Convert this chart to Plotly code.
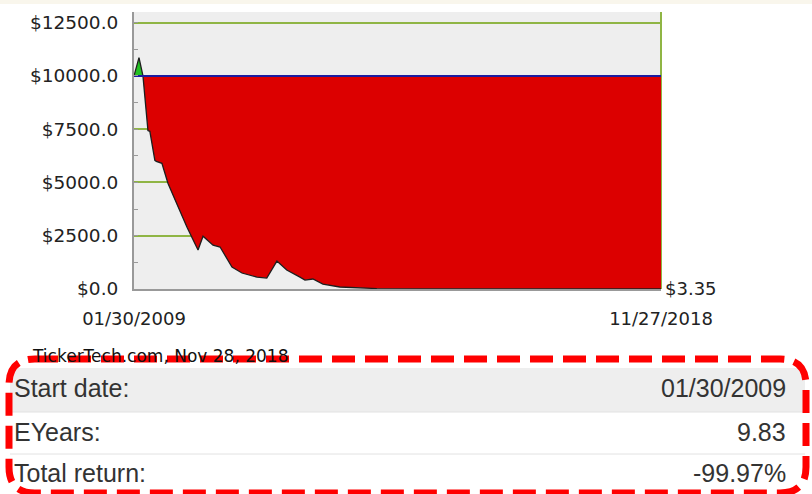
import numpy as np
import plotly.graph_objects as go

# ---- data ----
dates = ["2009-01-30", "2009-03-05", "2009-04-01", "2009-05-05", "2009-05-18",
         "2009-06-21", "2009-07-01", "2009-08-08", "2009-09-18", "2009-11-05",
         "2010-01-26", "2010-04-11", "2010-05-15", "2010-07-22", "2010-09-08",
         "2010-11-28", "2011-02-04", "2011-05-17", "2011-07-23", "2011-09-30",
         "2011-12-06", "2012-03-05", "2012-04-08", "2012-06-01", "2012-08-08",
         "2012-12-01", "2013-04-20", "2013-08-10", "2014-06-01", "2015-06-01",
         "2016-06-01", "2017-06-01", "2018-11-27"]
values = [10000, 10860, 10000, 7440, 7400,
          6040, 5990, 5900, 4960, 4170,
          2900, 1830, 2480, 2060, 1970,
          1030, 750, 560, 515, 1310,
          890, 560, 420, 470, 230,
          95, 50, 20, 8, 5,
          4, 3.6, 3.35]
start_value = 10000
y_ticks = [0, 2500, 5000, 7500, 10000, 12500]
x_tick_labels = ["01/30/2009", "11/27/2018"]
end_label = "$3.35"
source_text = "TickerTech.com, Nov 28, 2018"
table_labels = ["Start date:", "EYears:", "Total return:"]
table_values = ["01/30/2009", "9.83", "-99.97%"]

# ---- layout geometry (pixels) ----
W, H = 812, 494
PL, PR, PT, PB = 134, 661, 12, 289


def px(x):
    return (x - PL) / (PR - PL)


def py(y):
    return (PB - y) / (PB - PT)


vals = np.array(values, dtype=float)
base = np.full(len(vals), start_value, dtype=float)
upper = np.maximum(vals, start_value)
lower = np.minimum(vals, start_value)

GREEN_GRID = "#8fb544"
fig = go.Figure()
fig.add_trace(go.Scatter(x=dates, y=base, mode="lines", line=dict(width=0),
                         hoverinfo="skip", showlegend=False))
fig.add_trace(go.Scatter(x=dates, y=upper, mode="lines", line=dict(width=0),
                         fill="tonexty", fillcolor="#22c022",
                         hoverinfo="skip", showlegend=False))
fig.add_trace(go.Scatter(x=dates, y=base, mode="lines", line=dict(width=0),
                         hoverinfo="skip", showlegend=False))
fig.add_trace(go.Scatter(x=dates, y=lower, mode="lines", line=dict(width=0),
                         fill="tonexty", fillcolor="#dc0000",
                         hoverinfo="skip", showlegend=False))
fig.add_trace(go.Scatter(x=dates, y=vals, mode="lines",
                         line=dict(color="#1e1e1e", width=1.3),
                         showlegend=False))
fig.add_trace(go.Scatter(x=dates, y=base, mode="lines",
                         line=dict(color="#1c1ca0", width=2),
                         hoverinfo="skip", showlegend=False))

shapes = []
# right border of plot (green)
shapes.append(dict(type="line", xref="x domain", yref="y domain", x0=1, x1=1,
                   y0=0, y1=1, line=dict(color=GREEN_GRID, width=2), layer="below"))
# top cream strip
shapes.append(dict(type="rect", xref="paper", yref="paper", x0=px(0), x1=px(W),
                   y0=py(4), y1=py(0), fillcolor="#f9f6ec", line=dict(width=0)))
# table row background and separators
shapes.append(dict(type="rect", xref="paper", yref="paper", x0=px(10), x1=px(805),
                   y0=py(412), y1=py(368), fillcolor="#eeeeee", line=dict(width=0)))
for sy in (412, 454):
    shapes.append(dict(type="line", xref="paper", yref="paper", x0=px(10), x1=px(805),
                       y0=py(sy), y1=py(sy), line=dict(color="#e2e2e2", width=1)))
# dashed rounded rectangle
Lx, Rx, Ty, By, r = 9, 806, 359, 493, 26
pts = [("M", Lx + r, Ty), ("L", Rx - r, Ty), ("Q", Rx, Ty, Rx, Ty + r),
       ("L", Rx, By - r), ("Q", Rx, By, Rx - r, By), ("L", Lx + r, By),
       ("Q", Lx, By, Lx, By - r), ("L", Lx, Ty + r), ("Q", Lx, Ty, Lx + r, Ty)]
path = ""
for p in pts:
    cmd = p[0]
    coords = p[1:]
    segs = []
    for i in range(0, len(coords), 2):
        segs.append(f"{px(coords[i]):.5f},{py(coords[i + 1]):.5f}")
    path += cmd + " " + " ".join(segs) + " "
path += "Z"
shapes.append(dict(type="path", xref="paper", yref="paper", path=path,
                   line=dict(color="#ff0000", width=7, dash="23px,10px"),
                   fillcolor="rgba(0,0,0,0)"))

annotations = []
annotations.append(dict(x=dates[-1], y=values[-1], xref="x", yref="y", text=end_label,
                        showarrow=False, xanchor="left", yanchor="middle", xshift=2,
                        font=dict(family="DejaVu Sans", size=18, color="#222222")))
annotations.append(dict(x=px(30), y=py(356), xref="paper", yref="paper", text=source_text,
                        showarrow=False, xanchor="left", yanchor="middle",
                        font=dict(family="DejaVu Sans", size=17, color="#111111")))
row_y = [388, 432, 473]
for lab, val, ry in zip(table_labels, table_values, row_y):
    annotations.append(dict(x=px(12), y=py(ry), xref="paper", yref="paper", text=lab,
                            showarrow=False, xanchor="left", yanchor="middle",
                            font=dict(family="Liberation Sans, Arial", size=25, color="#333333")))
    annotations.append(dict(x=px(788), y=py(ry), xref="paper", yref="paper", text=val,
                            showarrow=False, xanchor="right", yanchor="middle",
                            font=dict(family="Liberation Sans, Arial", size=25, color="#333333")))

fig.update_layout(
    width=W, height=H,
    margin=dict(l=PL, r=W - PR, t=PT, b=H - PB, pad=0),
    paper_bgcolor="white", plot_bgcolor="#eeeeee",
    showlegend=False,
    shapes=shapes, annotations=annotations,
    font=dict(family="DejaVu Sans", size=18, color="#222222"),
)
fig.update_xaxes(range=[dates[0], dates[-1]], showgrid=False, zeroline=False,
                 showline=True, linecolor="#999999", linewidth=2,
                 tickvals=[dates[0], dates[-1]], ticktext=x_tick_labels,
                 ticks="", ticklabelstandoff=12,
                 tickfont=dict(family="DejaVu Sans", size=18, color="#222222"))
fig.update_yaxes(range=[0, 13000], tickvals=y_ticks,
                 ticktext=[f"${v:.1f}" for v in y_ticks],
                 showgrid=True, gridcolor=GREEN_GRID, gridwidth=2, zeroline=False,
                 showline=True, linecolor="#999999", linewidth=2,
                 ticks="inside", ticklen=4, tickcolor="#999999",
                 minor=dict(dtick=1250, tick0=0, ticks="inside", ticklen=4,
                            tickcolor="#999999", showgrid=False),
                 ticklabelstandoff=10,
                 tickfont=dict(family="DejaVu Sans", size=18.5, color="#222222"))

fig.write_html("out.html", config={"displayModeBar": False},
               post_script="document.body.style.margin='0';document.body.style.overflow='hidden';")
